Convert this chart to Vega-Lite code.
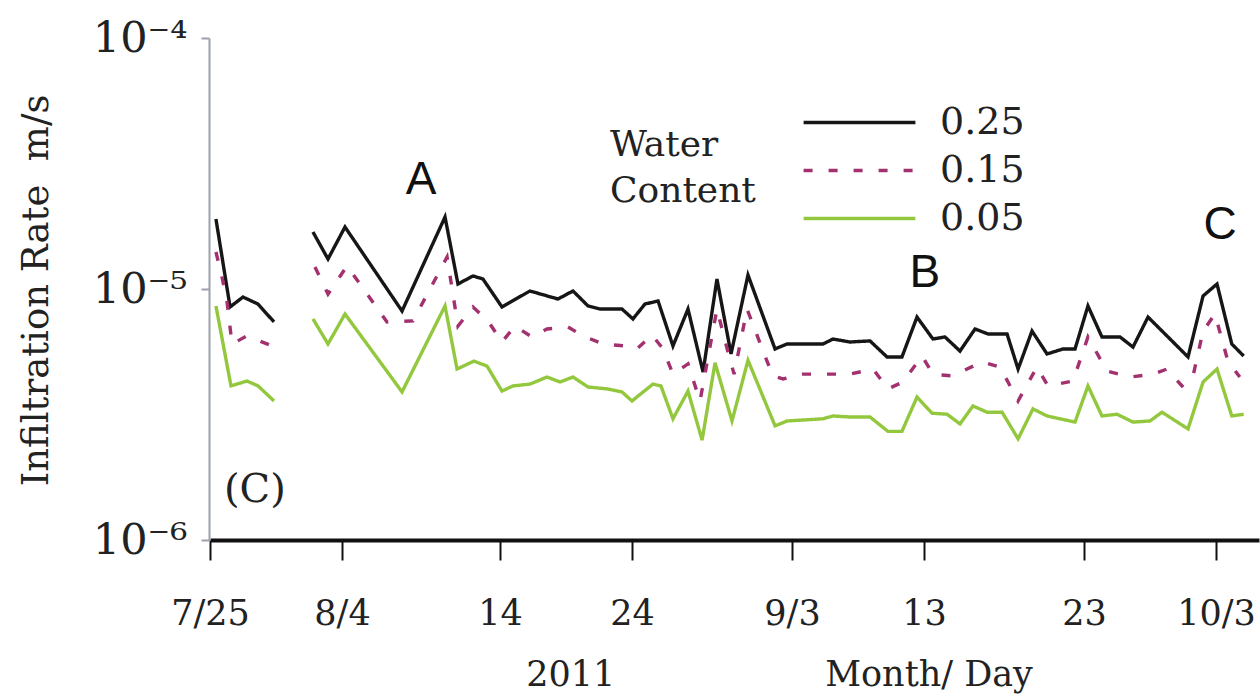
{
  "$schema": "https://vega.github.io/schema/vega-lite/v6.json",
  "width": 1050,
  "height": 502,
  "autosize": "none",
  "padding": {"left": 209, "top": 38, "right": 1, "bottom": 156},
  "background": "white",
  "config": {
    "view": {"stroke": null},
    "font": "DejaVu Serif"
  },
  "datasets": {
    "rates": [
      {"wc": "0.25", "seg": 1, "day": 0.45, "rate": 1.90e-5},
      {"wc": "0.25", "seg": 1, "day": 1.52, "rate": 0.848e-5},
      {"wc": "0.25", "seg": 1, "day": 2.5, "rate": 0.929e-5},
      {"wc": "0.25", "seg": 1, "day": 3.64, "rate": 0.871e-5},
      {"wc": "0.25", "seg": 1, "day": 4.85, "rate": 0.739e-5},
      {"wc": "0.25", "seg": 2, "day": 7.8, "rate": 1.687e-5},
      {"wc": "0.25", "seg": 2, "day": 8.94, "rate": 1.317e-5},
      {"wc": "0.25", "seg": 2, "day": 10.19, "rate": 1.766e-5},
      {"wc": "0.25", "seg": 2, "day": 13.8, "rate": 0.817e-5},
      {"wc": "0.25", "seg": 2, "day": 16.52, "rate": 1.936e-5},
      {"wc": "0.25", "seg": 2, "day": 17.34, "rate": 1.047e-5},
      {"wc": "0.25", "seg": 2, "day": 18.29, "rate": 1.127e-5},
      {"wc": "0.25", "seg": 2, "day": 18.92, "rate": 1.096e-5},
      {"wc": "0.25", "seg": 2, "day": 20.15, "rate": 0.848e-5},
      {"wc": "0.25", "seg": 2, "day": 22.27, "rate": 0.982e-5},
      {"wc": "0.25", "seg": 2, "day": 24.39, "rate": 0.912e-5},
      {"wc": "0.25", "seg": 2, "day": 25.53, "rate": 0.982e-5},
      {"wc": "0.25", "seg": 2, "day": 26.67, "rate": 0.856e-5},
      {"wc": "0.25", "seg": 2, "day": 27.58, "rate": 0.832e-5},
      {"wc": "0.25", "seg": 2, "day": 29.24, "rate": 0.832e-5},
      {"wc": "0.25", "seg": 2, "day": 30.06, "rate": 0.760e-5},
      {"wc": "0.25", "seg": 2, "day": 30.81, "rate": 0.871e-5},
      {"wc": "0.25", "seg": 2, "day": 31.63, "rate": 0.896e-5},
      {"wc": "0.25", "seg": 2, "day": 32.56, "rate": 0.593e-5},
      {"wc": "0.25", "seg": 2, "day": 33.5, "rate": 0.832e-5},
      {"wc": "0.25", "seg": 2, "day": 34.44, "rate": 0.467e-5},
      {"wc": "0.25", "seg": 2, "day": 35.31, "rate": 1.096e-5},
      {"wc": "0.25", "seg": 2, "day": 36.19, "rate": 0.551e-5},
      {"wc": "0.25", "seg": 2, "day": 37.25, "rate": 1.137e-5},
      {"wc": "0.25", "seg": 2, "day": 38.94, "rate": 0.577e-5},
      {"wc": "0.25", "seg": 2, "day": 39.69, "rate": 0.604e-5},
      {"wc": "0.25", "seg": 2, "day": 42.35, "rate": 0.604e-5},
      {"wc": "0.25", "seg": 2, "day": 43.11, "rate": 0.632e-5},
      {"wc": "0.25", "seg": 2, "day": 44.39, "rate": 0.615e-5},
      {"wc": "0.25", "seg": 2, "day": 45.91, "rate": 0.621e-5},
      {"wc": "0.25", "seg": 2, "day": 47.2, "rate": 0.536e-5},
      {"wc": "0.25", "seg": 2, "day": 48.33, "rate": 0.536e-5},
      {"wc": "0.25", "seg": 2, "day": 49.47, "rate": 0.773e-5},
      {"wc": "0.25", "seg": 2, "day": 50.56, "rate": 0.632e-5},
      {"wc": "0.25", "seg": 2, "day": 51.31, "rate": 0.644e-5},
      {"wc": "0.25", "seg": 2, "day": 52.25, "rate": 0.566e-5},
      {"wc": "0.25", "seg": 2, "day": 53.19, "rate": 0.693e-5},
      {"wc": "0.25", "seg": 2, "day": 54.0, "rate": 0.662e-5},
      {"wc": "0.25", "seg": 2, "day": 55.19, "rate": 0.662e-5},
      {"wc": "0.25", "seg": 2, "day": 55.88, "rate": 0.480e-5},
      {"wc": "0.25", "seg": 2, "day": 56.75, "rate": 0.680e-5},
      {"wc": "0.25", "seg": 2, "day": 57.69, "rate": 0.551e-5},
      {"wc": "0.25", "seg": 2, "day": 58.69, "rate": 0.577e-5},
      {"wc": "0.25", "seg": 2, "day": 59.44, "rate": 0.577e-5},
      {"wc": "0.25", "seg": 2, "day": 60.3, "rate": 0.856e-5},
      {"wc": "0.25", "seg": 2, "day": 61.36, "rate": 0.644e-5},
      {"wc": "0.25", "seg": 2, "day": 62.73, "rate": 0.644e-5},
      {"wc": "0.25", "seg": 2, "day": 63.71, "rate": 0.587e-5},
      {"wc": "0.25", "seg": 2, "day": 64.85, "rate": 0.773e-5},
      {"wc": "0.25", "seg": 2, "day": 66.52, "rate": 0.632e-5},
      {"wc": "0.25", "seg": 2, "day": 67.88, "rate": 0.536e-5},
      {"wc": "0.25", "seg": 2, "day": 69.02, "rate": 0.938e-5},
      {"wc": "0.25", "seg": 2, "day": 70.07, "rate": 1.047e-5},
      {"wc": "0.25", "seg": 2, "day": 71.1, "rate": 0.604e-5},
      {"wc": "0.25", "seg": 2, "day": 71.93, "rate": 0.541e-5},

      {"wc": "0.15", "seg": 1, "day": 0.45, "rate": 1.404e-5},
      {"wc": "0.15", "seg": 1, "day": 0.91, "rate": 1.116e-5},
      {"wc": "0.15", "seg": 1, "day": 1.29, "rate": 0.888e-5},
      {"wc": "0.15", "seg": 1, "day": 1.67, "rate": 0.604e-5},
      {"wc": "0.15", "seg": 1, "day": 2.8, "rate": 0.650e-5},
      {"wc": "0.15", "seg": 1, "day": 4.7, "rate": 0.593e-5},
      {"wc": "0.15", "seg": 2, "day": 7.95, "rate": 1.224e-5},
      {"wc": "0.15", "seg": 2, "day": 8.94, "rate": 0.955e-5},
      {"wc": "0.15", "seg": 2, "day": 10.32, "rate": 1.235e-5},
      {"wc": "0.15", "seg": 2, "day": 12.85, "rate": 0.739e-5},
      {"wc": "0.15", "seg": 2, "day": 14.49, "rate": 0.746e-5},
      {"wc": "0.15", "seg": 2, "day": 16.65, "rate": 1.341e-5},
      {"wc": "0.15", "seg": 2, "day": 17.34, "rate": 0.712e-5},
      {"wc": "0.15", "seg": 2, "day": 18.29, "rate": 0.848e-5},
      {"wc": "0.15", "seg": 2, "day": 19.24, "rate": 0.746e-5},
      {"wc": "0.15", "seg": 2, "day": 20.15, "rate": 0.615e-5},
      {"wc": "0.15", "seg": 2, "day": 21.14, "rate": 0.712e-5},
      {"wc": "0.15", "seg": 2, "day": 22.42, "rate": 0.644e-5},
      {"wc": "0.15", "seg": 2, "day": 23.56, "rate": 0.693e-5},
      {"wc": "0.15", "seg": 2, "day": 25.15, "rate": 0.706e-5},
      {"wc": "0.15", "seg": 2, "day": 26.29, "rate": 0.650e-5},
      {"wc": "0.15", "seg": 2, "day": 27.8, "rate": 0.604e-5},
      {"wc": "0.15", "seg": 2, "day": 29.47, "rate": 0.593e-5},
      {"wc": "0.15", "seg": 2, "day": 30.31, "rate": 0.577e-5},
      {"wc": "0.15", "seg": 2, "day": 31.25, "rate": 0.656e-5},
      {"wc": "0.15", "seg": 2, "day": 31.94, "rate": 0.577e-5},
      {"wc": "0.15", "seg": 2, "day": 32.56, "rate": 0.458e-5},
      {"wc": "0.15", "seg": 2, "day": 33.5, "rate": 0.503e-5},
      {"wc": "0.15", "seg": 2, "day": 34.25, "rate": 0.358e-5},
      {"wc": "0.15", "seg": 2, "day": 35.31, "rate": 0.832e-5},
      {"wc": "0.15", "seg": 2, "day": 36.06, "rate": 0.541e-5},
      {"wc": "0.15", "seg": 2, "day": 36.38, "rate": 0.458e-5},
      {"wc": "0.15", "seg": 2, "day": 37.19, "rate": 0.832e-5},
      {"wc": "0.15", "seg": 2, "day": 38.19, "rate": 0.566e-5},
      {"wc": "0.15", "seg": 2, "day": 38.81, "rate": 0.450e-5},
      {"wc": "0.15", "seg": 2, "day": 39.44, "rate": 0.438e-5},
      {"wc": "0.15", "seg": 2, "day": 40.76, "rate": 0.458e-5},
      {"wc": "0.15", "seg": 2, "day": 42.65, "rate": 0.458e-5},
      {"wc": "0.15", "seg": 2, "day": 44.39, "rate": 0.458e-5},
      {"wc": "0.15", "seg": 2, "day": 46.14, "rate": 0.480e-5},
      {"wc": "0.15", "seg": 2, "day": 47.27, "rate": 0.400e-5},
      {"wc": "0.15", "seg": 2, "day": 48.4, "rate": 0.426e-5},
      {"wc": "0.15", "seg": 2, "day": 49.85, "rate": 0.541e-5},
      {"wc": "0.15", "seg": 2, "day": 50.56, "rate": 0.458e-5},
      {"wc": "0.15", "seg": 2, "day": 51.81, "rate": 0.450e-5},
      {"wc": "0.15", "seg": 2, "day": 52.69, "rate": 0.480e-5},
      {"wc": "0.15", "seg": 2, "day": 53.63, "rate": 0.512e-5},
      {"wc": "0.15", "seg": 2, "day": 54.75, "rate": 0.489e-5},
      {"wc": "0.15", "seg": 2, "day": 55.88, "rate": 0.358e-5},
      {"wc": "0.15", "seg": 2, "day": 57.06, "rate": 0.489e-5},
      {"wc": "0.15", "seg": 2, "day": 57.75, "rate": 0.411e-5},
      {"wc": "0.15", "seg": 2, "day": 59.31, "rate": 0.430e-5},
      {"wc": "0.15", "seg": 2, "day": 60.3, "rate": 0.644e-5},
      {"wc": "0.15", "seg": 2, "day": 61.74, "rate": 0.471e-5},
      {"wc": "0.15", "seg": 2, "day": 63.48, "rate": 0.446e-5},
      {"wc": "0.15", "seg": 2, "day": 65.23, "rate": 0.458e-5},
      {"wc": "0.15", "seg": 2, "day": 66.29, "rate": 0.480e-5},
      {"wc": "0.15", "seg": 2, "day": 67.42, "rate": 0.411e-5},
      {"wc": "0.15", "seg": 2, "day": 68.26, "rate": 0.450e-5},
      {"wc": "0.15", "seg": 2, "day": 69.02, "rate": 0.680e-5},
      {"wc": "0.15", "seg": 2, "day": 69.92, "rate": 0.795e-5},
      {"wc": "0.15", "seg": 2, "day": 70.83, "rate": 0.516e-5},
      {"wc": "0.15", "seg": 2, "day": 71.66, "rate": 0.446e-5},

      {"wc": "0.05", "seg": 1, "day": 0.45, "rate": 0.856e-5},
      {"wc": "0.05", "seg": 1, "day": 1.59, "rate": 0.411e-5},
      {"wc": "0.05", "seg": 1, "day": 2.8, "rate": 0.430e-5},
      {"wc": "0.05", "seg": 1, "day": 3.64, "rate": 0.411e-5},
      {"wc": "0.05", "seg": 1, "day": 4.85, "rate": 0.358e-5},
      {"wc": "0.05", "seg": 2, "day": 7.8, "rate": 0.760e-5},
      {"wc": "0.05", "seg": 2, "day": 8.94, "rate": 0.604e-5},
      {"wc": "0.05", "seg": 2, "day": 10.19, "rate": 0.795e-5},
      {"wc": "0.05", "seg": 2, "day": 13.8, "rate": 0.389e-5},
      {"wc": "0.05", "seg": 2, "day": 16.52, "rate": 0.856e-5},
      {"wc": "0.05", "seg": 2, "day": 17.28, "rate": 0.480e-5},
      {"wc": "0.05", "seg": 2, "day": 18.35, "rate": 0.516e-5},
      {"wc": "0.05", "seg": 2, "day": 19.18, "rate": 0.493e-5},
      {"wc": "0.05", "seg": 2, "day": 20.15, "rate": 0.392e-5},
      {"wc": "0.05", "seg": 2, "day": 20.98, "rate": 0.411e-5},
      {"wc": "0.05", "seg": 2, "day": 22.27, "rate": 0.418e-5},
      {"wc": "0.05", "seg": 2, "day": 23.56, "rate": 0.446e-5},
      {"wc": "0.05", "seg": 2, "day": 24.55, "rate": 0.426e-5},
      {"wc": "0.05", "seg": 2, "day": 25.53, "rate": 0.446e-5},
      {"wc": "0.05", "seg": 2, "day": 26.67, "rate": 0.407e-5},
      {"wc": "0.05", "seg": 2, "day": 28.11, "rate": 0.400e-5},
      {"wc": "0.05", "seg": 2, "day": 29.24, "rate": 0.389e-5},
      {"wc": "0.05", "seg": 2, "day": 30.0, "rate": 0.358e-5},
      {"wc": "0.05", "seg": 2, "day": 31.31, "rate": 0.418e-5},
      {"wc": "0.05", "seg": 2, "day": 31.81, "rate": 0.411e-5},
      {"wc": "0.05", "seg": 2, "day": 32.56, "rate": 0.304e-5},
      {"wc": "0.05", "seg": 2, "day": 33.5, "rate": 0.392e-5},
      {"wc": "0.05", "seg": 2, "day": 34.38, "rate": 0.250e-5},
      {"wc": "0.05", "seg": 2, "day": 35.19, "rate": 0.508e-5},
      {"wc": "0.05", "seg": 2, "day": 36.25, "rate": 0.298e-5},
      {"wc": "0.05", "seg": 2, "day": 37.25, "rate": 0.520e-5},
      {"wc": "0.05", "seg": 2, "day": 38.94, "rate": 0.285e-5},
      {"wc": "0.05", "seg": 2, "day": 39.69, "rate": 0.298e-5},
      {"wc": "0.05", "seg": 2, "day": 42.35, "rate": 0.304e-5},
      {"wc": "0.05", "seg": 2, "day": 43.11, "rate": 0.312e-5},
      {"wc": "0.05", "seg": 2, "day": 44.39, "rate": 0.309e-5},
      {"wc": "0.05", "seg": 2, "day": 45.91, "rate": 0.309e-5},
      {"wc": "0.05", "seg": 2, "day": 47.27, "rate": 0.271e-5},
      {"wc": "0.05", "seg": 2, "day": 48.33, "rate": 0.271e-5},
      {"wc": "0.05", "seg": 2, "day": 49.47, "rate": 0.371e-5},
      {"wc": "0.05", "seg": 2, "day": 50.5, "rate": 0.320e-5},
      {"wc": "0.05", "seg": 2, "day": 51.44, "rate": 0.317e-5},
      {"wc": "0.05", "seg": 2, "day": 52.25, "rate": 0.290e-5},
      {"wc": "0.05", "seg": 2, "day": 53.06, "rate": 0.342e-5},
      {"wc": "0.05", "seg": 2, "day": 53.94, "rate": 0.323e-5},
      {"wc": "0.05", "seg": 2, "day": 54.88, "rate": 0.323e-5},
      {"wc": "0.05", "seg": 2, "day": 55.88, "rate": 0.253e-5},
      {"wc": "0.05", "seg": 2, "day": 56.81, "rate": 0.333e-5},
      {"wc": "0.05", "seg": 2, "day": 57.69, "rate": 0.312e-5},
      {"wc": "0.05", "seg": 2, "day": 59.44, "rate": 0.295e-5},
      {"wc": "0.05", "seg": 2, "day": 60.3, "rate": 0.411e-5},
      {"wc": "0.05", "seg": 2, "day": 61.36, "rate": 0.312e-5},
      {"wc": "0.05", "seg": 2, "day": 62.5, "rate": 0.317e-5},
      {"wc": "0.05", "seg": 2, "day": 63.71, "rate": 0.295e-5},
      {"wc": "0.05", "seg": 2, "day": 65.0, "rate": 0.298e-5},
      {"wc": "0.05", "seg": 2, "day": 65.91, "rate": 0.323e-5},
      {"wc": "0.05", "seg": 2, "day": 67.88, "rate": 0.277e-5},
      {"wc": "0.05", "seg": 2, "day": 69.02, "rate": 0.426e-5},
      {"wc": "0.05", "seg": 2, "day": 70.07, "rate": 0.480e-5},
      {"wc": "0.05", "seg": 2, "day": 71.1, "rate": 0.312e-5},
      {"wc": "0.05", "seg": 2, "day": 71.93, "rate": 0.317e-5}
    ],
    "notes": [
      {"day": 15.0, "rate": 2.39e-5, "label": "A"},
      {"day": 50.06, "rate": 1.018e-5, "label": "B"},
      {"day": 70.28, "rate": 1.582e-5, "label": "C"}
    ],
    "panel": [
      {"day": 3.4, "rate": 1.42e-6, "label": "(C)"}
    ]
  },
  "layer": [
    {
      "data": {"name": "rates"},
      "mark": {"type": "line", "strokeWidth": 3.4, "strokeJoin": "miter"},
      "encoding": {
        "x": {
          "field": "day",
          "type": "quantitative",
          "scale": {
            "domain": [0, 10, 20, 30, 40, 50, 60, 70, 73],
            "range": [1, 133, 291, 423, 583, 715, 875, 1007, 1050],
            "nice": false,
            "zero": false
          },
          "axis": {
            "values": [0, 10, 20, 30, 40, 50, 60, 70],
            "labelExpr": "['7/25','8/4','14','24','9/3','13','23','10/3'][round(datum.value/10)]",
            "grid": false,
            "domainColor": "#111111",
            "domainWidth": 4,
            "tickColor": "#111111",
            "tickWidth": 2,
            "tickSize": 20,
            "labelFont": "DejaVu Serif",
            "labelFontSize": 35,
            "labelColor": "#222222",
            "labelPadding": 36,
            "labelFlush": false,
            "labelOverlap": false,
            "labelBound": false,
            "title": "2011\u2003\u2003\u2003\u2003\u2003\u2003Month/ Day",
            "titleFont": "DejaVu Serif",
            "titleFontSize": 35,
            "titleFontWeight": "normal",
            "titleColor": "#222222",
            "titleX": 570,
            "titleY": 145,
            "titleAlign": "center",
            "titleBaseline": "alphabetic"
          }
        },
        "y": {
          "field": "rate",
          "type": "quantitative",
          "scale": {"type": "log", "domain": [1e-6, 1e-4], "nice": false},
          "axis": {
            "values": [1e-6, 1e-5, 1e-4],
            "labelExpr": "datum.value > 5e-5 ? '10\u207b\u2074' : datum.value > 5e-6 ? '10\u207b\u2075' : '10\u207b\u2076'",
            "grid": false,
            "domainColor": "#9aa2aa",
            "domainWidth": 2,
            "tickColor": "#9aa2aa",
            "tickWidth": 2,
            "tickSize": 8,
            "labelFont": "DejaVu Serif",
            "labelFontSize": 43,
            "labelColor": "#222222",
            "labelPadding": 14,
            "labelOverlap": false,
            "labelBound": false,
            "title": "Infiltration Rate\u00a0 m/s",
            "titleFont": "DejaVu Serif",
            "titleFontSize": 37,
            "titleFontWeight": "normal",
            "titleColor": "#222222",
            "titleAngle": 270,
            "titleX": -173,
            "titleY": 252,
            "titleAlign": "center",
            "titleBaseline": "middle"
          }
        },
        "color": {
          "field": "wc",
          "type": "nominal",
          "scale": {
            "domain": ["0.25", "0.15", "0.05"],
            "range": ["#161616", "#a3316f", "#93c83e"]
          },
          "legend": {
            "orient": "none",
            "legendX": 401,
            "legendY": 60,
            "direction": "vertical",
            "title": ["Water", "Content"],
            "titleOrient": "left",
            "titleAngle": 0,
            "titleAnchor": "middle",
            "titleAlign": "left",
            "titleBaseline": "middle",
            "titleFont": "DejaVu Serif",
            "titleFontSize": 36,
            "titleFontWeight": "normal",
            "titleColor": "#222222",
            "titleLineHeight": 46,
            "titlePadding": 79,
            "symbolType": "M-2.5,0H2.5",
            "symbolSize": 2000,
            "symbolStrokeWidth": 3.4,
            "labelFont": "DejaVu Serif",
            "labelFontSize": 38,
            "labelColor": "#222222",
            "labelOffset": 56,
            "rowPadding": 4
          }
        },
        "strokeDash": {
          "field": "wc",
          "type": "nominal",
          "scale": {
            "domain": ["0.25", "0.15", "0.05"],
            "range": [[1, 0], [9, 16], [1, 0]]
          },
          "legend": {
            "orient": "none",
            "legendX": 401,
            "legendY": 60,
            "direction": "vertical",
            "title": ["Water", "Content"],
            "titleOrient": "left",
            "titleAngle": 0,
            "titleAnchor": "middle",
            "titleAlign": "left",
            "titleBaseline": "middle",
            "titleFont": "DejaVu Serif",
            "titleFontSize": 36,
            "titleFontWeight": "normal",
            "titleColor": "#222222",
            "titleLineHeight": 46,
            "titlePadding": 79,
            "symbolType": "M-2.5,0H2.5",
            "symbolSize": 2000,
            "symbolStrokeWidth": 3.4,
            "labelFont": "DejaVu Serif",
            "labelFontSize": 38,
            "labelColor": "#222222",
            "labelOffset": 56,
            "rowPadding": 4
          }
        },
        "detail": {"field": "seg", "type": "nominal"}
      }
    },
    {
      "data": {"name": "notes"},
      "mark": {"type": "text", "font": "Liberation Sans", "fontSize": 46, "color": "#111111", "align": "center", "baseline": "alphabetic"},
      "encoding": {
        "x": {"field": "day", "type": "quantitative"},
        "y": {"field": "rate", "type": "quantitative"},
        "text": {"field": "label"}
      }
    },
    {
      "data": {"name": "panel"},
      "mark": {"type": "text", "font": "DejaVu Serif", "fontSize": 40, "color": "#222222", "align": "center", "baseline": "alphabetic"},
      "encoding": {
        "x": {"field": "day", "type": "quantitative"},
        "y": {"field": "rate", "type": "quantitative"},
        "text": {"field": "label"}
      }
    }
  ]
}
